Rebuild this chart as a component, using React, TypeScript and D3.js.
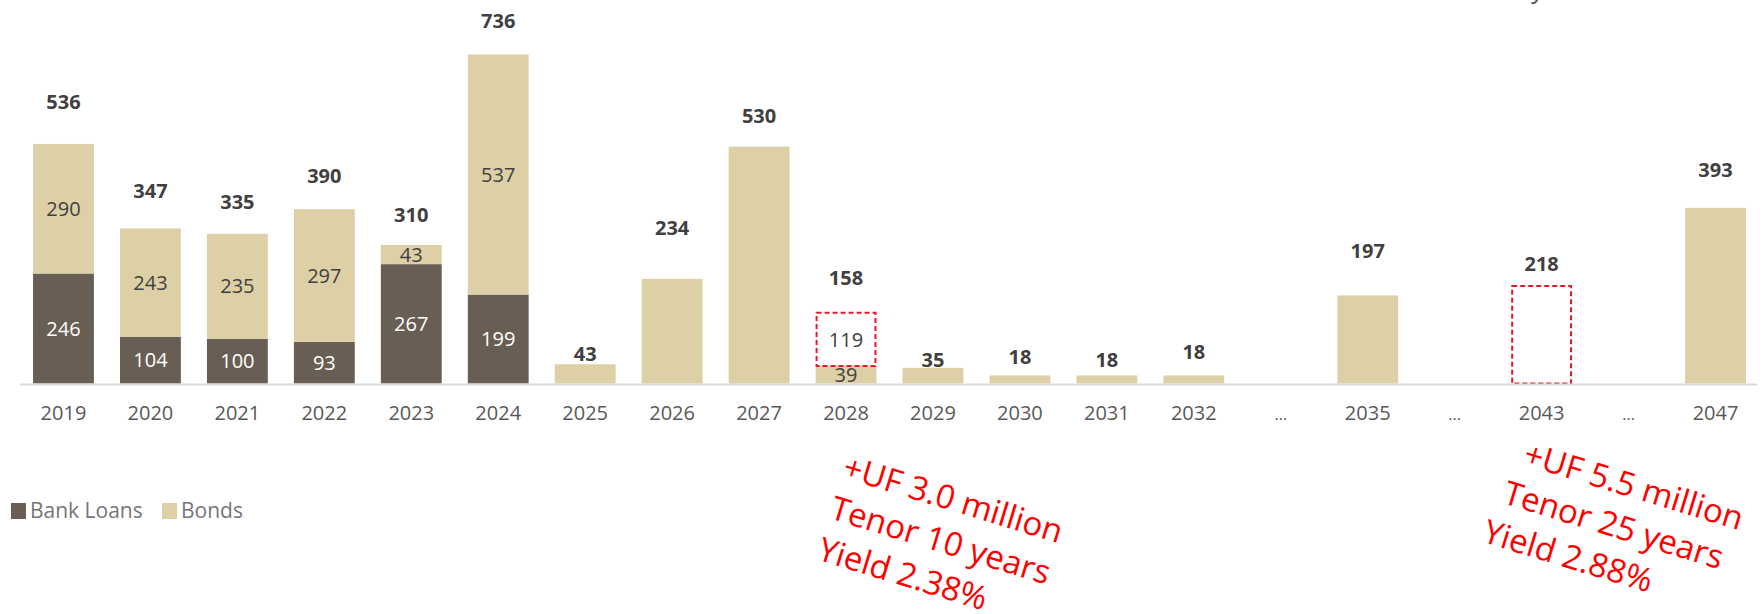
import React from "react";
import * as d3 from "d3";

const categories = ["2019","2020","2021","2022","2023","2024","2025","2026","2027","2028","2029","2030","2031","2032","...","2035","...","2043","...","2047"];
const bankLoans = [246,104,100,93,267,199,0,0,0,0,0,0,0,0,0,0,0,0,0,0];
const bonds = [290,243,235,297,43,537,43,234,530,39,35,18,18,18,0,197,0,0,0,393];
const newBonds = [0,0,0,0,0,0,0,0,0,119,0,0,0,0,0,0,0,218,0,0];
// layout: distance (px) from bar top to the centre of each total label
const totalLabelLift = [42,38,32,33,30,34,10,51,31,35,8,19,16,24,0,45,0,22,0,38];

const seriesNames = ["Bank Loans", "Bonds"];
const annotation2028 = ["+UF 3.0 million", "Tenor 10 years", "Yield 2.38%"];
const annotation2043 = ["+UF 5.5 million", "Tenor 25 years", "Yield 2.88%"];

const W = 1762, H = 614;
const LOAN = "#685e54";
const BOND = "#ddd0a6";
const RED = "#e31b23";
const FONT = "'Open Sans', 'DejaVu Sans', sans-serif";

export default function App() {
  const keys = categories.map((c, i) => c + "_" + i);
  const x = d3.scaleBand<string>().domain(keys).range([20, 1759]).paddingInner(0.3).paddingOuter(0.15);
  const y = d3.scaleLinear().domain([0, 800]).range([383.5, 383.5 - 800 * 0.447]);
  const bw = x.bandwidth();

  const rows = keys.map((k, i) => ({ key: k, loans: bankLoans[i], bonds: bonds[i], nb: newBonds[i] }));
  const stack = d3.stack<any>().keys(["loans", "bonds", "nb"])(rows);

  const cx = (i: number) => (x(keys[i]) as number) + bw / 2;
  const segCount = (i: number) => [bankLoans[i], bonds[i], newBonds[i]].filter(v => v > 0).length;

  const annots = [
    { lines: annotation2028, idx: 9, dx: -5, y: 477, shift: 0 },
    { lines: annotation2043, idx: 17, dx: -20, y: 464, shift: -8 },
  ];

  return (
    <div style={{ position: "absolute", left: 0, top: 0 }}>
      <svg width={W} height={H} style={{ display: "block", background: "#fff" }}>
        {/* cut-off title descender */}
        <text x={1531} y={-2} fontFamily={FONT} fontSize={26} fill="#595959">y</text>

        {/* bars */}
        {stack.map((layer, li) => (
          <g key={li}>
            {layer.map((d, i) => {
              const v = d[1] - d[0];
              if (v <= 0) return null;
              const x0 = x(keys[i]) as number;
              const yTop = y(d[1]);
              const h = y(d[0]) - y(d[1]);
              if (li === 2) {
                return (
                  <rect key={i} x={x0 + 1} y={yTop} width={bw - 2} height={h} fill="#fff"
                    stroke={RED} strokeWidth={2} strokeDasharray="5,3" />
                );
              }
              return <rect key={i} x={x0} y={yTop} width={bw} height={h} fill={li === 0 ? LOAN : BOND} />;
            })}
          </g>
        ))}

        {/* axis line */}
        <line x1={20} x2={1757} y1={384.5} y2={384.5} stroke="#d9d9d9" strokeWidth={2} />

        {/* segment labels */}
        {stack.map((layer, li) => (
          <g key={"sl" + li}>
            {layer.map((d, i) => {
              const v = d[1] - d[0];
              if (v <= 0 || segCount(i) < 2) return null;
              const ym = (y(d[0]) + y(d[1])) / 2;
              return (
                <text key={i} x={cx(i)} y={ym} dy="0.36em" textAnchor="middle" fontFamily={FONT}
                  fontSize={20} fill={li === 0 ? "#ffffff" : "#404040"}>{v}</text>
              );
            })}
          </g>
        ))}

        {/* total labels */}
        {keys.map((k, i) => {
          const t = bankLoans[i] + bonds[i] + newBonds[i];
          if (t <= 0) return null;
          return (
            <text key={"t" + i} x={cx(i)} y={y(t) - totalLabelLift[i]} dy="0.36em" textAnchor="middle"
              fontFamily={FONT} fontSize={20} fontWeight="bold" fill="#404040">{t}</text>
          );
        })}

        {/* x tick labels */}
        {categories.map((c, i) => (
          <text key={"x" + i} x={cx(i)} y={420} textAnchor="middle" fontFamily={FONT}
            fontSize={c === "..." ? 16 : 20} fill="#595959">{c}</text>
        ))}

        {/* legend */}
        <g fontFamily={FONT} fontSize={21} fill="#767676">
          <rect x={11} y={503} width={15} height={16} fill={LOAN} />
          <text x={30} y={518}>{seriesNames[0]}</text>
          <rect x={162} y={503} width={15} height={16} fill={BOND} />
          <text x={181} y={518}>{seriesNames[1]}</text>
        </g>

        {/* annotations */}
        {annots.map((a, ai) => (
          <text key={"a" + ai} transform={`translate(${cx(a.idx) + a.dx},${a.y}) rotate(17)`}
            fontFamily={FONT} fontSize={33} fill="#ff0000">
            {a.lines.map((l, li) => (
              <tspan key={li} x={li * a.shift} dy={li === 0 ? 0 : 43}>{l}</tspan>
            ))}
          </text>
        ))}
      </svg>
    </div>
  );
}
